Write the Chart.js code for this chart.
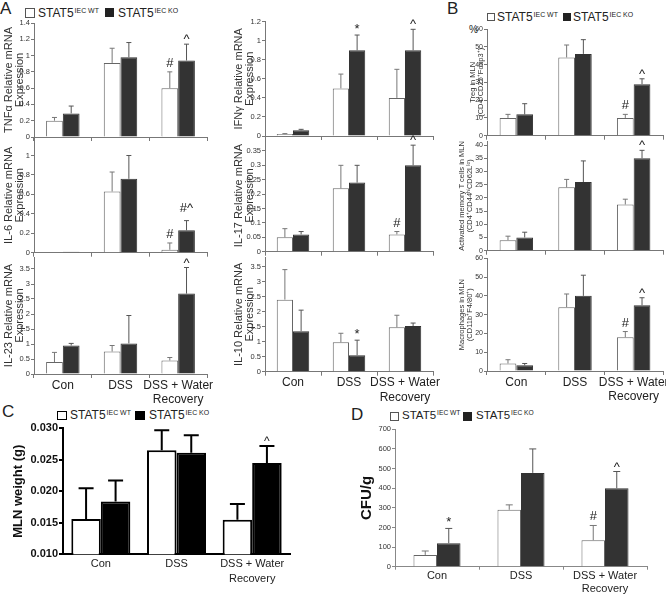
<!DOCTYPE html>
<html>
<head>
<meta charset="utf-8">
<title>STAT5 IEC WT vs KO</title>
<script src="https://cdn.jsdelivr.net/npm/chart.js@4.4.1/dist/chart.umd.min.js"></script>
<style>
    html, body { margin: 0; padding: 0; background: #fff; overflow: hidden; }
    #fig { position: relative; width: 666px; height: 594px; overflow: hidden;
           font-family: 'Liberation Sans', Arial, sans-serif; color: #222; }
    #fig canvas { position: absolute; }
    .lbl { position: absolute; white-space: nowrap; line-height: 1; }
    .box { position: absolute; box-sizing: border-box; }
    .wt { background: #fff; border: 1px solid #555; }
    .ko { background: #222; }
    sup { font-size: 0.58em; vertical-align: baseline; position: relative; top: -0.6em; line-height: 0; margin-left: 1px; }
</style>
</head>
<body>
<div id="fig">
    <!-- A -->
    <div class="lbl" style="left:0;top:0;font-size:17px">A</div>
    <div class="box wt" style="left:25px;top:8px;width:10px;height:10px"></div>
    <div class="lbl" style="left:38px;top:7px;font-size:12px">STAT5<sup>IEC WT</sup></div>
    <div class="box ko" style="left:105px;top:8px;width:9px;height:9px"></div>
    <div class="lbl" style="left:118px;top:7px;font-size:12px">STAT5<sup>IEC KO</sup></div>

    <!-- B -->
    <div class="lbl" style="left:447px;top:0;font-size:17px">B</div>
    <div class="box wt" style="left:487px;top:13px;width:8px;height:8px"></div>
    <div class="lbl" style="left:497px;top:11px;font-size:12px">STAT5<sup>IEC WT</sup></div>
    <div class="box ko" style="left:563px;top:13px;width:8px;height:8px"></div>
    <div class="lbl" style="left:573px;top:11px;font-size:12px">STAT5<sup>IEC KO</sup></div>
    <div class="lbl" style="left:469px;top:25px;font-size:10px">%</div>

    <!-- C -->
    <div class="lbl" style="left:2px;top:403px;font-size:17px">C</div>
    <div class="box wt" style="left:57px;top:411px;width:10px;height:9px;border-color:#000"></div>
    <div class="lbl" style="left:70px;top:409px;font-size:12px">STAT5<sup>IEC WT</sup></div>
    <div class="box ko" style="left:135px;top:411px;width:10px;height:9px;background:#000"></div>
    <div class="lbl" style="left:149px;top:409px;font-size:12px">STAT5<sup>IEC KO</sup></div>

    <!-- D -->
    <div class="lbl" style="left:351px;top:406px;font-size:17px">D</div>
    <div class="box wt" style="left:390px;top:412px;width:9px;height:9px"></div>
    <div class="lbl" style="left:402px;top:410px;font-size:11.5px">STAT5<sup>IEC WT</sup></div>
    <div class="box ko" style="left:463px;top:412px;width:9px;height:9px"></div>
    <div class="lbl" style="left:476px;top:410px;font-size:11.5px">STAT5<sup>IEC KO</sup></div>
</div>

<script>
const categories = ['Con', 'DSS', ['DSS + Water', 'Recovery']];

// A - TNFα
const tnfTicks = [0, 0.2, 0.4, 0.6, 0.8, 1, 1.2, 1.4];
const tnfWT = [0.2, 0.91, 0.6];
const tnfWTErr = [0.24, 1.09, 0.8];
const tnfKO = [0.29, 0.98, 0.94];
const tnfKOErr = [0.38, 1.16, 1.14];
const tnfWTMarks = ['', '', '#'];
const tnfKOMarks = ['', '', '^'];

// A - IL-6
const il6Ticks = [0, 0.2, 0.4, 0.6, 0.8, 1];
const il6WT = [0.005, 0.63, 0.03];
const il6WTErr = [0.005, 0.83, 0.1];
const il6KO = [0.01, 0.76, 0.23];
const il6KOErr = [0.01, 1.0, 0.33];
const il6WTMarks = ['', '', '#'];
const il6KOMarks = ['', '', '#^'];

// A - IL-23
const il23Ticks = [0, 0.5, 1, 1.5, 2, 2.5, 3, 3.5];
const il23WT = [0.4, 0.75, 0.45];
const il23WTErr = [0.72, 0.95, 0.55];
const il23KO = [0.95, 1.02, 2.68];
const il23KOErr = [1.02, 1.95, 3.55];
const il23WTMarks = ['', '', ''];
const il23KOMarks = ['', '', '^'];

// A - IFNγ
const ifnTicks = [0, 0.2, 0.4, 0.6, 0.8, 1, 1.2];
const ifnWT = [0.02, 0.5, 0.4];
const ifnWTErr = [0.025, 0.65, 0.7];
const ifnKO = [0.06, 0.9, 0.9];
const ifnKOErr = [0.07, 1.06, 1.12];
const ifnWTMarks = ['', '', ''];
const ifnKOMarks = ['', '*', '^'];

// A - IL-17
const il17Ticks = [0, 0.05, 0.1, 0.15, 0.2, 0.25, 0.3, 0.35];
const il17WT = [0.05, 0.22, 0.06];
const il17WTErr = [0.08, 0.3, 0.07];
const il17KO = [0.06, 0.24, 0.3];
const il17KOErr = [0.07, 0.3, 0.37];
const il17WTMarks = ['', '', '#'];
const il17KOMarks = ['', '', '^'];

// A - IL-10
const il10Ticks = [0, 0.5, 1, 1.5, 2, 2.5, 3, 3.5];
const il10WT = [2.4, 0.98, 1.48];
const il10WTErr = [3.4, 1.28, 1.88];
const il10KO = [1.35, 0.55, 1.52];
const il10KOErr = [2.05, 1.05, 1.62];
const il10WTMarks = ['', '', ''];
const il10KOMarks = ['', '*', ''];

// B - Treg
const tregTicks = [0, 10, 20, 30, 40, 50, 60];
const tregWT = [10, 44, 10];
const tregWTErr = [12, 51, 12];
const tregKO = [12, 46, 29];
const tregKOErr = [18, 54, 32];
const tregWTMarks = ['', '', '#'];
const tregKOMarks = ['', '', '^'];

// B - activated memory T cells
const memTicks = [0, 5, 10, 15, 20, 25, 30, 35, 40];
const memWT = [4, 24, 17.5];
const memWTErr = [5.5, 27, 19.5];
const memKO = [5, 26, 35];
const memKOErr = [7, 34, 38];
const memWTMarks = ['', '', ''];
const memKOMarks = ['', '', '^'];

// B - macrophages
const macTicks = [0, 10, 20, 30, 40, 50, 60];
const macWT = [4, 34, 18];
const macWTErr = [6, 41, 21];
const macKO = [3, 40, 35];
const macKOErr = [4, 51, 39];
const macWTMarks = ['', '', '#'];
const macKOMarks = ['', '', '^'];

// C - MLN weight
const mlnTicks = [0.010, 0.015, 0.020, 0.025, 0.030];
const mlnWT = [0.0156, 0.0265, 0.0155];
const mlnWTErr = [0.0205, 0.0297, 0.018];
const mlnKO = [0.0184, 0.0261, 0.0245];
const mlnKOErr = [0.0217, 0.0289, 0.0272];
const mlnWTMarks = ['', '', ''];
const mlnKOMarks = ['', '', '^'];

// D - CFU/g
const cfuTicks = [0, 100, 200, 300, 400, 500, 600, 700];
const cfuWT = [60, 290, 135];
const cfuWTErr = [80, 315, 210];
const cfuKO = [120, 478, 400];
const cfuKOErr = [195, 600, 485];
const cfuWTMarks = ['', '', '#'];
const cfuKOMarks = ['*', '', '^'];

const F = "'Liberation Sans', Arial, sans-serif";

// how far above the whisker each significance mark sits
const markLift = { '#': 5, '#^': 9, '^': 1, '*': 2 };

const errorBars = {
    id: 'errorBars',
    afterDatasetsDraw(chart, args, opts) {
        const { ctx } = chart;
        const yScale = chart.scales.y;
        chart.data.datasets.forEach((ds, i) => {
            chart.getDatasetMeta(i).data.forEach((bar, j) => {
                const top = yScale.getPixelForValue(ds.err[j]);
                ctx.save();
                if (ds.err[j] > ds.data[j]) {
                    ctx.strokeStyle = ds.errColor;
                    ctx.lineWidth = opts.width;
                    ctx.beginPath();
                    ctx.moveTo(bar.x, bar.y);
                    ctx.lineTo(bar.x, top);
                    ctx.moveTo(bar.x - opts.cap, top);
                    ctx.lineTo(bar.x + opts.cap, top);
                    ctx.stroke();
                }
                const mark = ds.marks[j];
                if (mark) {
                    ctx.font = opts.font;
                    ctx.fillStyle = '#222';
                    ctx.textAlign = 'center';
                    ctx.textBaseline = 'alphabetic';
                    ctx.fillText(mark, bar.x, top - (markLift[mark] || 3));
                }
                ctx.restore();
            });
        });
    }
};

const styleA = {
    wtFill: '#fff', wtLine: '#666', koFill: '#333', koLine: '#333', barLine: 1,
    errWT: '#777', errKO: '#555', errWidth: 1, cap: 2.5,
    axis: '#777', axisWidth: 1, tickLen: 3, tickPad: 1,
    tickFont: { family: F, size: 7.5 }, tickColor: '#333',
    titleFont: { family: F, size: 11, lineHeight: 1.05 }, titleColor: '#333',
    catFont: { family: F, size: 12, lineHeight: 1.2 }, catPad: 0,
    xTickMarks: true, xTickLen: 4, catPct: 0.58,
    markFont: '13px ' + F
};
const styleB = Object.assign({}, styleA, {
    tickFont: { family: F, size: 7 },
    titleFont: { family: F, size: 7.5, lineHeight: 1.05 },
    catPct: 0.57
});
const styleC = Object.assign({}, styleA, {
    wtFill: '#fff', wtLine: '#000', koFill: '#000', koLine: '#000', barLine: 2,
    errWT: '#000', errKO: '#000', errWidth: 2, cap: 7.5,
    axis: '#000', axisWidth: 2, tickLen: 4, tickPad: 1,
    tickFont: { family: F, size: 11, weight: 'bold' }, tickColor: '#111',
    titleFont: { family: F, size: 13, weight: 'bold', lineHeight: 1.2 }, titleColor: '#111',
    catFont: { family: F, size: 11, lineHeight: 1.3 }, catPad: 3,
    xTickMarks: false, xTickLen: 0, catPct: 0.78,
    markFont: '12px ' + F
});
const styleD = Object.assign({}, styleA, {
    cap: 3.5, axis: '#888', tickFont: { family: F, size: 7.5 },
    titleFont: { family: F, size: 15, weight: 'bold', lineHeight: 1.2 }, titleColor: '#111',
    catFont: { family: F, size: 11, lineHeight: 1.15 }, catPad: 0,
    xTickLen: 3, catPct: 0.56
});

// box = canvas [x, y, w, h]; area = plot area [left, top, right, bottom], page pixels
function drawPanel(box, area, s, c) {
    const [x, y, w, h] = box;
    const [l, t, r, b] = area;
    const canvas = document.createElement('canvas');
    canvas.width = w;
    canvas.height = h;
    canvas.style.left = x + 'px';
    canvas.style.top = y + 'px';
    document.getElementById('fig').appendChild(canvas);

    new Chart(canvas, {
        type: 'bar',
        data: {
            labels: categories,
            datasets: [
                {
                    label: 'STAT5 IEC WT', data: c.wt, err: c.wtErr, marks: c.wtMarks, errColor: s.errWT,
                    backgroundColor: s.wtFill, borderColor: s.wtLine, borderWidth: s.barLine,
                    categoryPercentage: s.catPct, barPercentage: 1
                },
                {
                    label: 'STAT5 IEC KO', data: c.ko, err: c.koErr, marks: c.koMarks, errColor: s.errKO,
                    backgroundColor: s.koFill, borderColor: s.koLine, borderWidth: s.barLine,
                    categoryPercentage: s.catPct, barPercentage: 1
                }
            ]
        },
        options: {
            responsive: false,
            animation: false,
            events: [],
            layout: { padding: { top: t - y, right: x + w - r, bottom: 0, left: 0 } },
            plugins: {
                legend: { display: false },
                tooltip: { enabled: false },
                errorBars: { cap: s.cap, width: s.errWidth, font: s.markFont }
            },
            scales: {
                x: {
                    grid: { display: s.xTickMarks, drawOnChartArea: false, tickLength: s.xTickLen, color: s.axis, offset: true },
                    border: { color: s.axis, width: s.axisWidth },
                    ticks: { display: !!c.showCats, font: s.catFont, color: '#222', padding: s.catPad, maxRotation: 0, autoSkip: false },
                    afterFit: sc => { sc.height = y + h - b; sc.paddingLeft = 0; sc.paddingRight = 0; }
                },
                y: {
                    min: c.min,
                    max: c.max,
                    afterBuildTicks: sc => { sc.ticks = c.ticks.map(v => ({ value: v })); },
                    grid: { drawOnChartArea: false, tickLength: s.tickLen, color: s.axis, lineWidth: s.axisWidth },
                    border: { color: s.axis, width: s.axisWidth },
                    ticks: { font: s.tickFont, color: s.tickColor, padding: s.tickPad,
                             callback: v => c.fmt ? c.fmt(v) : String(v) },
                    title: { display: true, text: c.title, font: s.titleFont, color: s.titleColor,
                             padding: { top: c.titlePad, bottom: 0 } },
                    afterFit: sc => { sc.width = l - x; sc.paddingTop = 0; sc.paddingBottom = 0; }
                }
            }
        },
        plugins: [errorBars]
    });
}

// Panel A, left column
drawPanel([0, 10, 222, 140], [34, 23, 207, 137], styleA, {
    ticks: tnfTicks, min: 0, max: 1.4, wt: tnfWT, wtErr: tnfWTErr, ko: tnfKO, koErr: tnfKOErr,
    wtMarks: tnfWTMarks, koMarks: tnfKOMarks, title: ['TNFα Relative mRNA', 'Expression'], titlePad: 3
});
drawPanel([0, 125, 222, 140], [34, 138, 207, 252.7], styleA, {
    ticks: il6Ticks, min: 0, max: 1.18, wt: il6WT, wtErr: il6WTErr, ko: il6KO, koErr: il6KOErr,
    wtMarks: il6WTMarks, koMarks: il6KOMarks, title: ['IL-6 Relative mRNA', 'Expression'], titlePad: 3
});
drawPanel([0, 245, 222, 165], [34, 257, 207, 374], styleA, {
    ticks: il23Ticks, min: 0, max: 3.9, wt: il23WT, wtErr: il23WTErr, ko: il23KO, koErr: il23KOErr,
    wtMarks: il23WTMarks, koMarks: il23KOMarks, title: ['IL-23 Relative mRNA', 'Expression'], titlePad: 3,
    showCats: true
});

// Panel A, right column
drawPanel([230, 10, 215, 140], [265, 21.7, 433, 136], styleA, {
    ticks: ifnTicks, min: 0, max: 1.2, wt: ifnWT, wtErr: ifnWTErr, ko: ifnKO, koErr: ifnKOErr,
    wtMarks: ifnWTMarks, koMarks: ifnKOMarks, title: ['IFNγ Relative mRNA', 'Expression'], titlePad: 3
});
drawPanel([230, 125, 215, 140], [265, 139.4, 433, 251.7], styleA, {
    ticks: il17Ticks, min: 0, max: 0.39, wt: il17WT, wtErr: il17WTErr, ko: il17KO, koErr: il17KOErr,
    wtMarks: il17WTMarks, koMarks: il17KOMarks, title: ['IL-17 Relative mRNA', 'Expression'], titlePad: 3
});
drawPanel([230, 245, 215, 165], [265, 257, 433, 371.7], styleA, {
    ticks: il10Ticks, min: 0, max: 3.82, wt: il10WT, wtErr: il10WTErr, ko: il10KO, koErr: il10KOErr,
    wtMarks: il10WTMarks, koMarks: il10KOMarks, title: ['IL-10 Relative mRNA', 'Expression'], titlePad: 3,
    showCats: true
});

// Panel B
drawPanel([455, 15, 220, 130], [487, 29, 663, 135.7], styleB, {
    ticks: tregTicks, min: 0, max: 60, wt: tregWT, wtErr: tregWTErr, ko: tregKO, koErr: tregKOErr,
    wtMarks: tregWTMarks, koMarks: tregKOMarks, title: ['Treg in MLN', '(CD4⁺CD25⁺Foxp3⁺)'], titlePad: 14
});
drawPanel([455, 130, 220, 130], [487, 141.1, 663, 250.7], styleB, {
    ticks: memTicks, min: 0, max: 41.5, wt: memWT, wtErr: memWTErr, ko: memKO, koErr: memKOErr,
    wtMarks: memWTMarks, koMarks: memKOMarks,
    title: ['Activated memory T cells in MLN', '(CD4⁺CD44ʰⁱCD62Lˡᵒ)'], titlePad: 3
});
drawPanel([455, 245, 220, 165], [487, 258.3, 663, 371], styleB, {
    ticks: macTicks, min: 0, max: 60, wt: macWT, wtErr: macWTErr, ko: macKO, koErr: macKOErr,
    wtMarks: macWTMarks, koMarks: macKOMarks, title: ['Macrophages in MLN', '(CD11b⁺F4/80⁺)'], titlePad: 3,
    showCats: true
});

// Panel C
drawPanel([0, 415, 300, 179], [63, 428.3, 290, 554.3], styleC, {
    ticks: mlnTicks, min: 0.010, max: 0.030, wt: mlnWT, wtErr: mlnWTErr, ko: mlnKO, koErr: mlnKOErr,
    wtMarks: mlnWTMarks, koMarks: mlnKOMarks, title: 'MLN weight (g)', titlePad: 11,
    fmt: v => v.toFixed(3), showCats: true
});

// Panel D
drawPanel([340, 415, 326, 179], [395, 429.3, 647, 566.7], styleD, {
    ticks: cfuTicks, min: 0, max: 700, wt: cfuWT, wtErr: cfuWTErr, ko: cfuKO, koErr: cfuKOErr,
    wtMarks: cfuWTMarks, koMarks: cfuKOMarks, title: 'CFU/g', titlePad: 18, showCats: true
});
</script>
</body>
</html>
